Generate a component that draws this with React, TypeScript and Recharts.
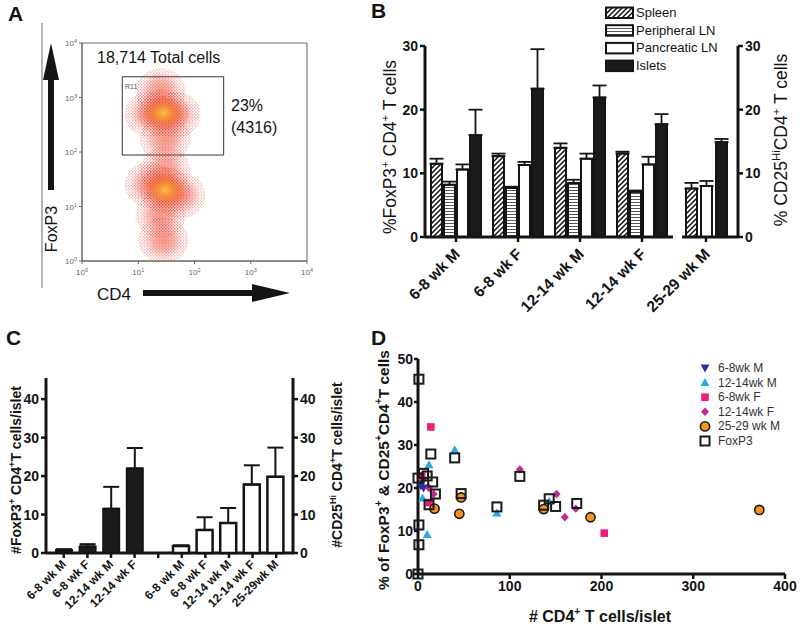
import {
  BarChart,
  Bar,
  XAxis,
  YAxis,
  ErrorBar,
  ScatterChart,
  Scatter,
  ReferenceArea,
} from "recharts";

const W = 800;
const H = 627;
const FONT = "Arial, 'Liberation Sans', Helvetica, sans-serif";
const INK = "#141414";

// ---------- A: CD4 vs FoxP3 flow plot (log/log)
const logTicks = [1, 10, 100, 1000, 10000];
// centres of the dense regions of each population (last one = densest)
const foxp3LoCloud = [
  { cd4: 28, foxp3: 2.4 },
  { cd4: 25, foxp3: 7 },
  { cd4: 16, foxp3: 25 },
  { cd4: 56, foxp3: 16 },
  { cd4: 30, foxp3: 47 },
  { cd4: 30, foxp3: 20 },
];
const foxp3HiCloud = [
  { cd4: 30, foxp3: 170 },
  { cd4: 25, foxp3: 1300 },
  { cd4: 16, foxp3: 500 },
  { cd4: 46, foxp3: 480 },
  { cd4: 28, foxp3: 520 },
];
const gateCd4 = [5.2, 330];
const gateFoxp3 = [88, 2400];

// ---------- B: % FoxP3+ / CD25hi of CD4+ T cells by tissue
const ageGroups = ["6-8 wk M", "6-8 wk F", "12-14 wk M", "12-14 wk F"];
const spleenPct = [11.5, 12.7, 14.0, 13.1];
const spleenSem = [0.8, 0.4, 0.7, 0.3];
const periLNPct = [8.2, 7.7, 8.5, 7.1];
const periLNSem = [0.5, 0.2, 0.5, 0.2];
const pancLNPct = [10.6, 11.3, 12.3, 11.4];
const pancLNSem = [0.8, 0.5, 0.8, 1.2];
const isletPct = [16.0, 23.3, 21.9, 17.7];
const isletSem = [4.0, 6.2, 1.9, 1.6];
const oldGroup = ["25-29 wk M"];
const oldSpleenPct = [7.6];
const oldSpleenSem = [0.9];
const oldPancLNPct = [8.0];
const oldPancLNSem = [0.8];
const oldIsletPct = [14.9];
const oldIsletSem = [0.5];
const tissues = ["Spleen", "Peripheral LN", "Pancreatic LN", "Islets"];

// ---------- C: cells per islet
const foxp3PerIslet = [0.8, 1.7, 11.5, 22.0];
const foxp3PerIsletSem = [0.2, 0.6, 5.7, 5.3];
const cd25Groups = ["6-8 wk M", "6-8 wk F", "12-14 wk M", "12-14 wk F", "25-29wk M"];
const cd25PerIslet = [1.8, 6.0, 7.8, 17.8, 19.8];
const cd25PerIsletSem = [0.2, 3.3, 3.9, 5.0, 7.6];

// ---------- D: % Treg vs CD4+ cells per islet
const dGroups = ["6-8wk M", "12-14wk M", "6-8wk F", "12-14wk F", "25-29 wk M", "FoxP3"];
const male68 = [
  { x: 3, y: 20.5 },
  { x: 6, y: 20.0 },
  { x: 5, y: 21.5 },
];
const male1214 = [
  { x: 40, y: 28.9 },
  { x: 12, y: 25.4 },
  { x: 5, y: 17.7 },
  { x: 10, y: 9.2 },
  { x: 86, y: 14.2 },
  { x: 143, y: 16.9 },
];
const female68 = [
  { x: 14, y: 34.2 },
  { x: 12, y: 16.6 },
  { x: 203, y: 9.5 },
  { x: 4, y: 22.8 },
];
const female1214 = [
  { x: 111, y: 24.3 },
  { x: 151, y: 18.6 },
  { x: 160, y: 13.2 },
  { x: 172, y: 15.2 },
  { x: 12, y: 20.0 },
  { x: 17, y: 18.6 },
];
const male2529 = [
  { x: 18, y: 15.2 },
  { x: 45, y: 14.0 },
  { x: 47, y: 17.8 },
  { x: 137, y: 15.1 },
  { x: 188, y: 13.2 },
  { x: 372, y: 14.9 },
];
const foxp3Pooled = [
  { x: 1, y: 45.3 },
  { x: 0, y: 22.3 },
  { x: 6, y: 23.4 },
  { x: 10, y: 22.8 },
  { x: 14, y: 27.9 },
  { x: 16, y: 21.4 },
  { x: 19, y: 18.6 },
  { x: 12, y: 16.1 },
  { x: 1, y: 11.4 },
  { x: 1, y: 6.8 },
  { x: 0, y: 0 },
  { x: 40, y: 27.0 },
  { x: 47, y: 18.7 },
  { x: 86, y: 15.6 },
  { x: 111, y: 22.7 },
  { x: 137, y: 16.0 },
  { x: 143, y: 17.5 },
  { x: 150, y: 15.7 },
  { x: 173, y: 16.4 },
];

// tables for the charts
const bRows = ageGroups.map((group, i) => ({
  group,
  spleen: spleenPct[i],
  spleenErr: [0, spleenSem[i]],
  periLN: periLNPct[i],
  periLNErr: [0, periLNSem[i]],
  pancLN: pancLNPct[i],
  pancLNErr: [0, pancLNSem[i]],
  islet: isletPct[i],
  isletErr: [0, isletSem[i]],
}));
const bOldRows = oldGroup.map((group, i) => ({
  group,
  spleen: oldSpleenPct[i],
  spleenErr: [0, oldSpleenSem[i]],
  pancLN: oldPancLNPct[i],
  pancLNErr: [0, oldPancLNSem[i]],
  islet: oldIsletPct[i],
  isletErr: [0, oldIsletSem[i]],
}));
const cRows = [
  ...ageGroups.map((label, i) => ({
    label,
    foxp3: foxp3PerIslet[i],
    foxp3Err: [0, foxp3PerIsletSem[i]],
  })),
  { label: "" },
  ...cd25Groups.map((label, i) => ({
    label,
    cd25: cd25PerIslet[i],
    cd25Err: [0, cd25PerIsletSem[i]],
  })),
];

const axisLine = { stroke: INK, strokeWidth: 3 };
const tickLine = { stroke: INK, strokeWidth: 2.5 };
const boldTick = { fontSize: 14, fontWeight: 700, fill: INK, fontFamily: FONT };

// plot box (page coords) -> chart margin, axes get 1px of room
const box = (l: number, t: number, r: number, b: number) => ({
  top: t,
  left: l - 1,
  right: W - r - 1,
  bottom: H - b - 1,
});

const slantTick = (dx: number, dy: number, size: number) => (p: any) => {
  const x = p.x + dx;
  const y = p.y + dy;
  return (
    <text
      x={x}
      y={y}
      transform={`rotate(-45 ${x} ${y})`}
      textAnchor="end"
      fontSize={size}
      fontWeight={700}
      fill={INK}
      fontFamily={FONT}
    >
      {p.payload.value}
    </text>
  );
};

const powTick = (axis: "x" | "y") => (p: any) => {
  const exp = Math.round(Math.log10(p.payload.value));
  const y = axis === "x" ? p.y + 9 : p.y + 3;
  return (
    <text x={p.x} y={y} textAnchor={axis === "x" ? "middle" : "end"} fontSize={8} fill="#666" fontFamily={FONT}>
      10
      <tspan fontSize={5.5} dy={-3}>
        {exp}
      </tspan>
    </text>
  );
};

// soft speckled blob; the densest point of a population gets the hot core
const cloudBlob = (core: { cd4: number; foxp3: number }) => (p: any) => {
  const isCore = p.payload && p.payload.cd4 === core.cd4 && p.payload.foxp3 === core.foxp3;
  return (
    <g>
      <ellipse cx={p.cx} cy={p.cy} rx={25} ry={23} fill="url(#speckle)" opacity={0.65} />
      <ellipse cx={p.cx} cy={p.cy} rx={20} ry={19} fill="url(#cellHalo)" />
      {isCore && <ellipse cx={p.cx} cy={p.cy} rx={22} ry={18} fill="url(#cellCore)" />}
    </g>
  );
};

// D markers
const downTriangle = (p: any) => (
  <path d={`M${p.cx - 4.5},${p.cy - 3.5}L${p.cx + 4.5},${p.cy - 3.5}L${p.cx},${p.cy + 4.5}Z`} fill="#2e3192" />
);
const upTriangle = (p: any) => (
  <path d={`M${p.cx - 4.5},${p.cy + 3.5}L${p.cx + 4.5},${p.cy + 3.5}L${p.cx},${p.cy - 4.5}Z`} fill="#29abe2" />
);
const pinkSquare = (p: any) => (
  <rect x={p.cx - 3.8} y={p.cy - 3.8} width={7.6} height={7.6} fill="#ec1e79" />
);
const diamond = (p: any) => (
  <path d={`M${p.cx},${p.cy - 4.2}L${p.cx + 4},${p.cy}L${p.cx},${p.cy + 4.2}L${p.cx - 4},${p.cy}Z`} fill="#c2268f" />
);
const orangeDot = (p: any) => (
  <circle cx={p.cx} cy={p.cy} r={4.6} fill="#f7941d" stroke="#1a1a1a" strokeWidth={1.6} />
);
const openSquare = (p: any) => (
  <rect x={p.cx - 4.5} y={p.cy - 4.5} width={9} height={9} fill="none" stroke="#1a1a1a" strokeWidth={2} />
);
const dShapes = [downTriangle, upTriangle, pinkSquare, diamond, orangeDot, openSquare];
const dData = [male68, male1214, female68, female1214, male2529, foxp3Pooled];

type Part = [string, boolean?];
function RichText(props: {
  x: number;
  y: number;
  parts: Part[];
  size: number;
  bold?: boolean;
  rotate?: number;
  anchor?: "start" | "middle" | "end";
}) {
  const { x, y, parts, size, bold, rotate, anchor = "middle" } = props;
  const shift = size * 0.42;
  let up = false;
  return (
    <text
      x={x}
      y={y}
      textAnchor={anchor}
      fontSize={size}
      fontWeight={bold ? 700 : 400}
      fill={INK}
      fontFamily={FONT}
      style={{ whiteSpace: "pre" }}
      transform={rotate ? `rotate(${rotate} ${x} ${y})` : undefined}
    >
      {parts.map(([t, sup], i) => {
        let dy = 0;
        if (sup && !up) dy = -shift;
        if (!sup && up) dy = shift;
        up = !!sup;
        return (
          <tspan key={i} dy={dy} fontSize={sup ? size * 0.65 : size}>
            {t}
          </tspan>
        );
      })}
    </text>
  );
}

function Layer({ children }: { children: any }) {
  return <div style={{ position: "absolute", left: 0, top: 0 }}>{children}</div>;
}

function FlowPlot() {
  return (
    <Layer>
      <ScatterChart width={W} height={H} margin={box(82, 43, 306, 261)}>
        <XAxis
          type="number"
          dataKey="cd4"
          scale="log"
          domain={[1, 10000]}
          ticks={logTicks}
          allowDataOverflow
          height={1}
          axisLine={{ stroke: "#666" }}
          tickLine={{ stroke: "#666" }}
          tickSize={3}
          tick={powTick("x")}
        />
        <YAxis
          type="number"
          dataKey="foxp3"
          scale="log"
          domain={[1, 10000]}
          ticks={logTicks}
          allowDataOverflow
          width={1}
          axisLine={{ stroke: "#666" }}
          tickLine={{ stroke: "#666" }}
          tickSize={3}
          tick={powTick("y")}
        />
        <Scatter
          data={foxp3LoCloud}
          shape={cloudBlob(foxp3LoCloud[foxp3LoCloud.length - 1])}
          isAnimationActive={false}
        />
        <Scatter
          data={foxp3HiCloud}
          shape={cloudBlob(foxp3HiCloud[foxp3HiCloud.length - 1])}
          isAnimationActive={false}
        />
        <ReferenceArea x1={1} x2={10000} y1={1} y2={10000} fill="none" stroke="#666" strokeWidth={1} />
        <ReferenceArea
          x1={gateCd4[0]}
          x2={gateCd4[1]}
          y1={gateFoxp3[0]}
          y2={gateFoxp3[1]}
          fill="none"
          stroke="#333"
          strokeWidth={1}
        />
      </ScatterChart>
    </Layer>
  );
}

function errBar(key: string) {
  return <ErrorBar dataKey={key} width={7} stroke={INK} strokeWidth={1.8} direction="y" />;
}

function TissueBars() {
  return (
    <>
      <Layer>
        <BarChart width={W} height={H} data={bRows} margin={box(425, 46, 672, 237)} barSize={11} barGap={2}>
          <XAxis
            dataKey="group"
            height={1}
            interval={0}
            axisLine={axisLine}
            tickLine={tickLine}
            tickSize={5}
            tick={slantTick(5, 11, 15.5)}
          />
          <YAxis domain={[0, 30]} ticks={[0, 10, 20, 30]} width={1} axisLine={axisLine} tickLine={tickLine} tickSize={5} tick={boldTick} />
          <Bar dataKey="spleen" fill="url(#hatchDiag)" stroke={INK} strokeWidth={2} isAnimationActive={false}>
            {errBar("spleenErr")}
          </Bar>
          <Bar dataKey="periLN" fill="url(#hatchHoriz)" stroke={INK} strokeWidth={2} isAnimationActive={false}>
            {errBar("periLNErr")}
          </Bar>
          <Bar dataKey="pancLN" fill="#fff" stroke={INK} strokeWidth={2} isAnimationActive={false}>
            {errBar("pancLNErr")}
          </Bar>
          <Bar dataKey="islet" fill="#1a1a1a" stroke={INK} strokeWidth={2} isAnimationActive={false}>
            {errBar("isletErr")}
          </Bar>
        </BarChart>
      </Layer>
      <Layer>
        <BarChart width={W} height={H} data={bOldRows} margin={box(683, 46, 738, 237)} barSize={11} barGap={4}>
          <XAxis
            dataKey="group"
            height={1}
            interval={0}
            padding={{ left: 0, right: 8 }}
            axisLine={axisLine}
            tickLine={tickLine}
            tickSize={5}
            tick={slantTick(5, 11, 15.5)}
          />
          <YAxis
            orientation="right"
            domain={[0, 30]}
            ticks={[0, 10, 20, 30]}
            width={1}
            axisLine={axisLine}
            tickLine={tickLine}
            tickSize={5}
            tick={boldTick}
          />
          <Bar dataKey="spleen" fill="url(#hatchDiag)" stroke={INK} strokeWidth={2} isAnimationActive={false}>
            {errBar("spleenErr")}
          </Bar>
          <Bar dataKey="pancLN" fill="#fff" stroke={INK} strokeWidth={2} isAnimationActive={false}>
            {errBar("pancLNErr")}
          </Bar>
          <Bar dataKey="islet" fill="#1a1a1a" stroke={INK} strokeWidth={2} isAnimationActive={false}>
            {errBar("isletErr")}
          </Bar>
        </BarChart>
      </Layer>
    </>
  );
}

// two charts over the same box: FoxP3 counts on the left axis, CD25hi counts on the right one
function PerIsletBars() {
  const cMargin = box(46, 378, 293, 553);
  const cTicks = [0, 10, 20, 30, 40];
  return (
    <>
      <Layer>
        <BarChart width={W} height={H} data={cRows} margin={cMargin} barSize={16}>
          <XAxis
            dataKey="label"
            height={1}
            interval={0}
            padding={{ left: 6, right: 6 }}
            axisLine={axisLine}
            tickLine={tickLine}
            tickSize={5}
            tick={slantTick(3, 5, 12)}
          />
          <YAxis domain={[0, 45.5]} ticks={cTicks} width={1} axisLine={axisLine} tickLine={tickLine} tickSize={5} tick={boldTick} />
          <Bar dataKey="foxp3" fill="#1a1a1a" stroke={INK} strokeWidth={2} isAnimationActive={false}>
            <ErrorBar dataKey="foxp3Err" width={8} stroke={INK} strokeWidth={2} direction="y" />
          </Bar>
        </BarChart>
      </Layer>
      <Layer>
        <BarChart width={W} height={H} data={cRows} margin={cMargin} barSize={16}>
          <XAxis
            dataKey="label"
            height={1}
            interval={0}
            padding={{ left: 6, right: 6 }}
            axisLine={false}
            tickLine={false}
            tick={false}
          />
          <YAxis
            orientation="right"
            domain={[0, 45.5]}
            ticks={cTicks}
            width={1}
            axisLine={axisLine}
            tickLine={tickLine}
            tickSize={5}
            tick={boldTick}
          />
          <Bar dataKey="cd25" fill="#fff" stroke={INK} strokeWidth={2.5} isAnimationActive={false}>
            <ErrorBar dataKey="cd25Err" width={8} stroke={INK} strokeWidth={2} direction="y" />
          </Bar>
        </BarChart>
      </Layer>
    </>
  );
}

function TregScatter() {
  return (
    <Layer>
      <ScatterChart width={W} height={H} margin={box(418, 359, 784, 574)}>
        <XAxis
          type="number"
          dataKey="x"
          domain={[0, 400]}
          ticks={[0, 100, 200, 300, 400]}
          height={1}
          axisLine={axisLine}
          tickLine={tickLine}
          tickSize={5}
          tick={boldTick}
        />
        <YAxis
          type="number"
          dataKey="y"
          domain={[0, 50]}
          ticks={[0, 10, 20, 30, 40, 50]}
          width={1}
          axisLine={axisLine}
          tickLine={tickLine}
          tickSize={4}
          tickMargin={1}
          tick={boldTick}
        />
        {dData.map((data, i) => (
          <Scatter key={dGroups[i]} name={dGroups[i]} data={data} shape={dShapes[i]} isAnimationActive={false} />
        ))}
      </ScatterChart>
    </Layer>
  );
}

function Overlay() {
  const bSwatches = ["url(#hatchDiag)", "url(#hatchHoriz)", "#fff", "#1a1a1a"];
  return (
    <svg
      width={W}
      height={H}
      style={{ position: "absolute", left: 0, top: 0, pointerEvents: "none" }}
      fontFamily={FONT}
    >
      <defs>
        <pattern id="hatchDiag" width="5" height="5" patternUnits="userSpaceOnUse">
          <rect width="5" height="5" fill="#fff" />
          <path d="M-1,1 L1,-1 M0,5 L5,0 M4,6 L6,4" stroke="#111" strokeWidth="1.5" />
        </pattern>
        <pattern id="hatchHoriz" width="4" height="3" patternUnits="userSpaceOnUse">
          <rect width="4" height="3" fill="#fff" />
          <line x1="0" y1="1.5" x2="4" y2="1.5" stroke="#444" strokeWidth="0.9" />
        </pattern>
        <radialGradient id="cellHalo">
          <stop offset="0%" stopColor="#f0542b" stopOpacity={0.55} />
          <stop offset="55%" stopColor="#ea3a2b" stopOpacity={0.3} />
          <stop offset="100%" stopColor="#ea3a2b" stopOpacity={0} />
        </radialGradient>
        <radialGradient id="cellCore">
          <stop offset="0%" stopColor="#f9c642" stopOpacity={0.95} />
          <stop offset="40%" stopColor="#f6932f" stopOpacity={0.7} />
          <stop offset="100%" stopColor="#f0542b" stopOpacity={0} />
        </radialGradient>
        <pattern id="speckle" width="3" height="3" patternUnits="userSpaceOnUse">
          <circle cx="0.8" cy="0.8" r="0.65" fill="#e32a22" />
          <circle cx="2.3" cy="2.2" r="0.55" fill="#ec4a2a" />
        </pattern>
      </defs>

      {/* panel letters */}
      <text x={8} y={21} fontSize={21} fontWeight={700} fill={INK}>A</text>
      <text x={371} y={18} fontSize={21} fontWeight={700} fill={INK}>B</text>
      <text x={6} y={345} fontSize={21} fontWeight={700} fill={INK}>C</text>
      <text x={371} y={345} fontSize={21} fontWeight={700} fill={INK}>D</text>

      {/* A annotations */}
      <line x1={42} y1={23} x2={42} y2={288} stroke="#b4b4b4" strokeWidth={2} />
      <rect x={48} y={78} width={6} height={112} fill={INK} />
      <path d="M43,80 L59,80 L51,43 Z" fill={INK} />
      <text x={57} y={229} fontSize={16} fill={INK} textAnchor="middle" transform="rotate(-90 57 229)">FoxP3</text>
      <text x={97} y={300} fontSize={17} fill={INK}>CD4</text>
      <rect x={143} y={290} width={112} height={6} fill={INK} />
      <path d="M252,284 L252,302 L290,293 Z" fill={INK} />
      <text x={97} y={63} fontSize={16} fill={INK}>18,714 Total cells</text>
      <text x={125} y={89} fontSize={7} fill="#555">R11</text>
      <text x={231} y={111} fontSize={16} fill={INK}>23%</text>
      <text x={231} y={133} fontSize={16} fill={INK}>(4316)</text>

      {/* B titles and legend */}
      <RichText x={396} y={147} size={17.5} rotate={-90} parts={[["%FoxP3"], ["+", true], [" CD4"], ["+", true], [" T cells"]]} />
      <RichText x={787} y={140} size={17.5} rotate={-90} parts={[["% CD25"], ["Hi", true], ["CD4"], ["+", true], [" T cells"]]} />
      {tissues.map((t, i) => (
        <g key={t}>
          <rect x={606} y={7.5 + i * 17.7} width={27} height={10.5} fill={bSwatches[i]} stroke={INK} strokeWidth={2} />
          <text x={636} y={17 + i * 17.7} fontSize={13} fill={INK}>{t}</text>
        </g>
      ))}

      {/* C titles */}
      <RichText x={21} y={470} size={14} bold rotate={-90} parts={[["#FoxP3"], ["+", true], [" CD4"], ["+", true], ["T cells/islet"]]} />
      <RichText x={342} y={465} size={14} bold rotate={-90} parts={[["#CD25"], ["Hi", true], [" CD4"], ["+", true], ["T cells/islet"]]} />

      {/* D titles and legend */}
      <RichText
        x={389}
        y={470}
        size={15.5}
        bold
        rotate={-90}
        parts={[["% of FoxP3"], ["+", true], [" & CD25"], ["+", true], ["CD4"], ["+", true], ["T cells"]]}
      />
      <RichText x={600} y={622} size={16} bold parts={[["# CD4"], ["+", true], [" T cells/islet"]]} />
      {dGroups.map((g, i) => {
        const Shape = dShapes[i];
        const cy = 368 + i * 14.6;
        return (
          <g key={g}>
            <Shape cx={705} cy={cy} />
            <text x={718} y={cy + 4} fontSize={12} fill="#333">{g}</text>
          </g>
        );
      })}
    </svg>
  );
}

export default function App() {
  return (
    <div style={{ position: "absolute", left: 0, top: 0, width: W, height: H, background: "#fff", fontFamily: FONT }}>
      <FlowPlot />
      <TissueBars />
      <PerIsletBars />
      <TregScatter />
      <Overlay />
    </div>
  );
}
